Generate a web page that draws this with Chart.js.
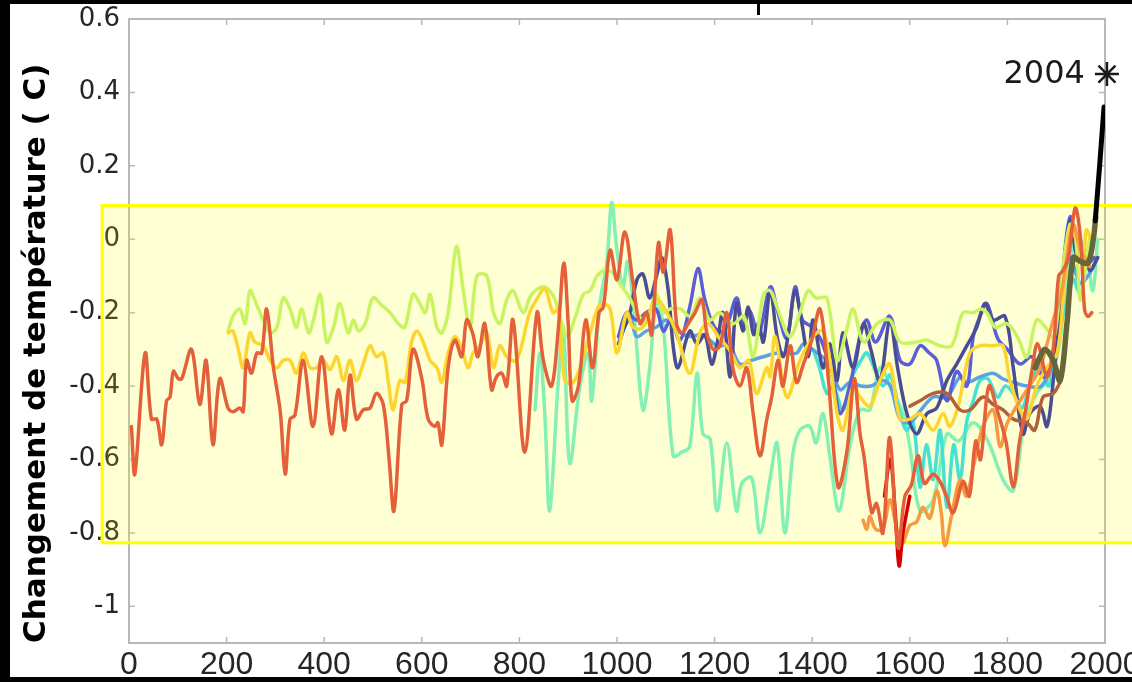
<!DOCTYPE html>
<html>
<head>
<meta charset="utf-8">
<script src="https://cdn.jsdelivr.net/npm/chart.js@4.4.1/dist/chart.umd.min.js"></script>
<style>
  body { margin: 0; background: #000; width: 1132px; height: 682px; overflow: hidden; }
  #wrap { position: absolute; left: 10px; top: 4px; width: 1122px; height: 673px; background: #fff; }
  #mark { position: absolute; left: 757px; top: 3px; width: 3px; height: 12px; background: #000; }
</style>
</head>
<body>
<div id="wrap"><canvas id="tempChart"></canvas></div>
<div id="mark"></div>
<script>
// Axis ticks
const xTicks = [0, 200, 400, 600, 800, 1000, 1200, 1400, 1600, 1800, 2000]
const yTicks = [-1, -0.8, -0.6, -0.4, -0.2, 0, 0.2, 0.4, 0.6]

// Shaded band (years, temperature)
const bandYears = [-55, 2120]
const bandTemps = [0.092, -0.827]

// Series: [year, temperature change]
const moberg = [[5,-0.51],[12,-0.64],[33,-0.31],[46,-0.49],[57,-0.49],[67,-0.56],[77,-0.44],[84,-0.43],[91,-0.36],[101,-0.38],[108,-0.38],[128,-0.30],[145,-0.45],[158,-0.33],[172,-0.56],[186,-0.38],[203,-0.46],[213,-0.47],[227,-0.46],[234,-0.47],[241,-0.33],[251,-0.365],[262,-0.31],[272,-0.31],[282,-0.19],[296,-0.35],[310,-0.47],[320,-0.64],[330,-0.49],[340,-0.48],[357,-0.33],[377,-0.51],[395,-0.32],[415,-0.53],[429,-0.41],[442,-0.52],[453,-0.37],[466,-0.49],[480,-0.465],[494,-0.46],[507,-0.42],[521,-0.45],[533,-0.60],[543,-0.74],[559,-0.45],[569,-0.44],[582,-0.30],[600,-0.38],[613,-0.49],[627,-0.51],[633,-0.50],[641,-0.56],[654,-0.35],[668,-0.275],[682,-0.32],[692,-0.22],[705,-0.26],[715,-0.32],[729,-0.23],[743,-0.41],[753,-0.375],[764,-0.365],[774,-0.40],[787,-0.22],[811,-0.58],[836,-0.20],[849,-0.33],[866,-0.40],[880,-0.24],[891,-0.065],[900,-0.23],[908,-0.44],[921,-0.40],[936,-0.22],[950,-0.35],[963,-0.20],[972,-0.185],[986,-0.03],[1000,-0.11],[1016,0.02],[1033,-0.12],[1047,-0.23],[1061,-0.20],[1071,-0.26],[1085,-0.01],[1095,-0.09],[1109,0.025],[1122,-0.23],[1133,-0.255],[1146,-0.23],[1160,-0.20],[1174,-0.165],[1184,-0.255],[1197,-0.30],[1211,-0.29],[1225,-0.20],[1238,-0.355],[1252,-0.40],[1266,-0.35],[1279,-0.475],[1293,-0.59],[1307,-0.49],[1317,-0.43],[1330,-0.33],[1340,-0.40],[1355,-0.29],[1368,-0.39],[1382,-0.34],[1399,-0.275],[1416,-0.19],[1433,-0.38],[1453,-0.675],[1471,-0.58],[1486,-0.38],[1498,-0.53],[1506,-0.59],[1522,-0.745],[1532,-0.72],[1545,-0.80],[1559,-0.54],[1576,-0.84],[1590,-0.70],[1603,-0.67],[1617,-0.59],[1630,-0.665],[1648,-0.64],[1662,-0.66],[1675,-0.70],[1689,-0.745],[1709,-0.66],[1722,-0.70],[1735,-0.55],[1745,-0.60],[1762,-0.40],[1781,-0.475],[1797,-0.55],[1812,-0.675],[1825,-0.55],[1838,-0.46],[1850,-0.36],[1862,-0.285],[1881,-0.375],[1894,-0.30],[1905,-0.10],[1914,-0.085],[1925,-0.05],[1939,0.085],[1950,0.0],[1958,-0.19],[1965,-0.21],[1973,-0.20]]

const glacier = [[1548,-0.70],[1560,-0.60],[1570,-0.74],[1578,-0.89],[1586,-0.80],[1600,-0.70]]

const borehole = [[1504,-0.765],[1512,-0.79],[1518,-0.755],[1530,-0.79],[1545,-0.79],[1559,-0.71],[1572,-0.78],[1584,-0.83],[1600,-0.78],[1614,-0.77],[1627,-0.73],[1641,-0.76],[1655,-0.685],[1664,-0.74],[1672,-0.835],[1686,-0.75],[1703,-0.655],[1716,-0.70],[1730,-0.62],[1750,-0.51],[1771,-0.465],[1785,-0.565],[1800,-0.50],[1826,-0.44],[1845,-0.40],[1867,-0.35],[1894,-0.22],[1910,-0.15],[1922,-0.05],[1935,0.04],[1950,-0.03],[1969,-0.075]]

const huang = [[1600,-0.455],[1621,-0.44],[1648,-0.42],[1676,-0.42],[1703,-0.465],[1723,-0.465],[1750,-0.43],[1771,-0.45],[1791,-0.465],[1812,-0.49],[1840,-0.50],[1856,-0.52],[1873,-0.43],[1894,-0.42],[1908,-0.39]]

const mannJones = [[203,-0.25],[213,-0.21],[227,-0.19],[238,-0.23],[248,-0.14],[262,-0.18],[275,-0.22],[289,-0.255],[303,-0.24],[316,-0.16],[330,-0.19],[343,-0.24],[354,-0.19],[368,-0.255],[378,-0.22],[392,-0.15],[405,-0.28],[419,-0.24],[432,-0.175],[449,-0.255],[460,-0.22],[470,-0.25],[484,-0.23],[500,-0.16],[518,-0.18],[535,-0.20],[552,-0.23],[565,-0.24],[582,-0.15],[596,-0.175],[607,-0.20],[617,-0.15],[631,-0.24],[641,-0.255],[654,-0.20],[671,-0.02],[685,-0.14],[699,-0.24],[713,-0.10],[733,-0.10],[747,-0.20],[760,-0.23],[774,-0.165],[787,-0.14],[808,-0.20],[825,-0.15],[852,-0.13],[873,-0.165],[897,-0.265],[915,-0.21],[931,-0.15],[945,-0.14],[959,-0.10],[975,-0.085],[990,-0.09],[1005,-0.12],[1026,-0.16],[1045,-0.21],[1060,-0.22],[1080,-0.15],[1095,-0.20],[1109,-0.19],[1130,-0.19],[1150,-0.21],[1170,-0.16],[1190,-0.22],[1210,-0.20],[1238,-0.23],[1260,-0.21],[1279,-0.32],[1300,-0.15],[1314,-0.14],[1328,-0.185],[1354,-0.265],[1375,-0.20],[1392,-0.14],[1408,-0.16],[1430,-0.16],[1451,-0.33],[1470,-0.25],[1484,-0.19],[1505,-0.28],[1533,-0.23],[1559,-0.22],[1580,-0.28],[1614,-0.28],[1635,-0.275],[1662,-0.29],[1686,-0.29],[1709,-0.20],[1730,-0.20],[1744,-0.19],[1758,-0.20],[1775,-0.24],[1799,-0.23],[1820,-0.265],[1840,-0.32],[1860,-0.22],[1881,-0.245],[1895,-0.27],[1908,-0.14],[1928,0.04],[1940,0.0],[1949,-0.165],[1960,-0.08],[1969,0.0],[1980,0.0]]

const jonesMann = [[203,-0.255],[213,-0.25],[224,-0.30],[234,-0.35],[248,-0.255],[258,-0.28],[275,-0.29],[289,-0.33],[303,-0.35],[316,-0.33],[330,-0.33],[343,-0.365],[357,-0.31],[371,-0.35],[384,-0.35],[398,-0.33],[412,-0.355],[426,-0.32],[439,-0.385],[453,-0.33],[466,-0.385],[480,-0.34],[494,-0.29],[507,-0.32],[521,-0.31],[531,-0.385],[541,-0.465],[555,-0.385],[566,-0.39],[579,-0.28],[590,-0.25],[603,-0.28],[617,-0.33],[631,-0.35],[641,-0.39],[654,-0.31],[668,-0.265],[682,-0.30],[695,-0.35],[705,-0.31],[719,-0.29],[733,-0.255],[747,-0.35],[760,-0.29],[774,-0.32],[794,-0.33],[821,-0.20],[835,-0.165],[852,-0.135],[869,-0.20],[880,-0.19],[893,-0.385],[910,-0.39],[924,-0.35],[945,-0.255],[961,-0.185],[972,-0.175],[986,-0.19],[1000,-0.31],[1020,-0.20],[1033,-0.24],[1053,-0.24],[1081,-0.165],[1102,-0.20],[1122,-0.255],[1149,-0.365],[1170,-0.255],[1187,-0.23],[1210,-0.27],[1230,-0.30],[1252,-0.35],[1270,-0.33],[1286,-0.42],[1307,-0.35],[1314,-0.375],[1324,-0.265],[1348,-0.43],[1375,-0.33],[1402,-0.265],[1422,-0.25],[1436,-0.33],[1451,-0.475],[1463,-0.52],[1484,-0.40],[1498,-0.43],[1518,-0.455],[1539,-0.385],[1559,-0.34],[1580,-0.49],[1600,-0.49],[1621,-0.475],[1648,-0.52],[1668,-0.475],[1682,-0.51],[1700,-0.45],[1723,-0.31],[1744,-0.29],[1771,-0.29],[1791,-0.29],[1805,-0.385],[1826,-0.465],[1840,-0.49],[1860,-0.40],[1881,-0.35],[1902,-0.31],[1915,-0.15],[1928,0.025],[1943,0.0],[1955,-0.075],[1962,0.025],[1975,-0.02]]

const esper = [[832,-0.465],[842,-0.31],[852,-0.475],[862,-0.74],[879,-0.40],[890,-0.24],[903,-0.61],[924,-0.40],[941,-0.31],[948,-0.44],[965,-0.175],[979,-0.065],[989,0.10],[999,-0.02],[1012,-0.13],[1022,-0.06],[1036,-0.22],[1053,-0.465],[1067,-0.35],[1081,-0.165],[1095,-0.24],[1115,-0.59],[1133,-0.58],[1149,-0.565],[1164,-0.365],[1176,-0.53],[1191,-0.545],[1205,-0.74],[1225,-0.555],[1245,-0.74],[1256,-0.665],[1276,-0.65],[1293,-0.80],[1314,-0.65],[1328,-0.555],[1344,-0.80],[1361,-0.58],[1375,-0.52],[1395,-0.51],[1408,-0.555],[1422,-0.475],[1436,-0.59],[1455,-0.74],[1477,-0.565],[1498,-0.465],[1518,-0.465],[1539,-0.35],[1566,-0.42],[1585,-0.47],[1600,-0.565],[1621,-0.74],[1648,-0.71],[1676,-0.53],[1700,-0.55],[1730,-0.50],[1760,-0.55],[1791,-0.655],[1812,-0.685],[1835,-0.50],[1860,-0.42],[1885,-0.38],[1905,-0.30],[1922,-0.11],[1943,0.005],[1963,-0.05],[1975,-0.14],[1985,0.0]]

const jones98 = [[1003,-0.285],[1012,-0.25],[1025,-0.21],[1041,-0.11],[1053,-0.095],[1067,-0.16],[1081,-0.10],[1092,-0.05],[1105,-0.14],[1115,-0.29],[1125,-0.35],[1149,-0.25],[1164,-0.285],[1180,-0.26],[1194,-0.34],[1205,-0.285],[1217,-0.20],[1232,-0.375],[1245,-0.175],[1258,-0.25],[1269,-0.185],[1280,-0.26],[1290,-0.23],[1300,-0.28],[1314,-0.14],[1328,-0.265],[1341,-0.32],[1352,-0.25],[1365,-0.14],[1379,-0.23],[1392,-0.32],[1402,-0.22],[1422,-0.35],[1436,-0.285],[1451,-0.385],[1463,-0.255],[1484,-0.35],[1505,-0.23],[1520,-0.30],[1539,-0.385],[1559,-0.22],[1575,-0.35],[1594,-0.475],[1614,-0.53],[1635,-0.475],[1655,-0.46],[1676,-0.385],[1696,-0.34],[1717,-0.29],[1737,-0.24],[1754,-0.175],[1771,-0.22],[1795,-0.21],[1812,-0.35],[1832,-0.53],[1846,-0.475],[1867,-0.455],[1881,-0.51],[1894,-0.385],[1908,-0.185],[1928,0.05],[1943,-0.05],[1955,-0.03],[1969,-0.085],[1985,-0.05]]

const mann99 = [[1003,-0.265],[1020,-0.20],[1040,-0.22],[1060,-0.20],[1080,-0.19],[1095,-0.25],[1110,-0.22],[1129,-0.275],[1149,-0.185],[1166,-0.08],[1180,-0.165],[1200,-0.24],[1220,-0.25],[1245,-0.16],[1258,-0.24],[1272,-0.195],[1290,-0.26],[1314,-0.13],[1330,-0.20],[1348,-0.27],[1365,-0.13],[1380,-0.22],[1400,-0.24],[1420,-0.28],[1443,-0.385],[1457,-0.475],[1477,-0.40],[1498,-0.265],[1512,-0.22],[1530,-0.28],[1559,-0.21],[1580,-0.33],[1600,-0.34],[1621,-0.29],[1640,-0.31],[1655,-0.33],[1676,-0.44],[1696,-0.36],[1717,-0.40],[1730,-0.265],[1744,-0.21],[1758,-0.175],[1780,-0.27],[1800,-0.30],[1826,-0.34],[1850,-0.32],[1873,-0.375],[1890,-0.34],[1908,-0.165],[1928,0.06],[1945,-0.02],[1960,-0.07],[1978,-0.05]]

const crowley = [[1006,-0.275],[1026,-0.21],[1040,-0.265],[1060,-0.25],[1080,-0.24],[1102,-0.22],[1125,-0.25],[1149,-0.265],[1175,-0.26],[1205,-0.29],[1230,-0.29],[1252,-0.34],[1275,-0.33],[1300,-0.32],[1330,-0.31],[1368,-0.31],[1382,-0.285],[1400,-0.30],[1436,-0.34],[1457,-0.41],[1477,-0.39],[1500,-0.40],[1520,-0.40],[1545,-0.385],[1560,-0.40],[1580,-0.49],[1600,-0.50],[1620,-0.47],[1648,-0.43],[1676,-0.43],[1703,-0.375],[1717,-0.39],[1744,-0.375],[1771,-0.365],[1790,-0.38],[1812,-0.39],[1840,-0.40],[1870,-0.40],[1890,-0.33],[1908,-0.16],[1928,-0.05],[1949,-0.12],[1965,-0.10],[1985,-0.05]]

const briffa = [[1402,-0.30],[1415,-0.35],[1430,-0.42],[1443,-0.40],[1463,-0.465],[1480,-0.38],[1500,-0.33],[1512,-0.31],[1530,-0.36],[1545,-0.40],[1560,-0.37],[1580,-0.475],[1593,-0.52],[1607,-0.50],[1621,-0.675],[1634,-0.56],[1648,-0.655],[1662,-0.52],[1676,-0.73],[1690,-0.56],[1703,-0.655],[1716,-0.50],[1730,-0.44],[1744,-0.385],[1760,-0.38],[1780,-0.43],[1796,-0.40],[1812,-0.42],[1830,-0.46],[1850,-0.38],[1867,-0.35],[1885,-0.40],[1900,-0.30],[1915,-0.20],[1935,-0.11],[1945,-0.14],[1955,-0.16]]

const instrumental = [[1857,-0.35],[1867,-0.32],[1877,-0.30],[1894,-0.33],[1908,-0.385],[1922,-0.23],[1935,-0.05],[1949,-0.06],[1965,-0.065],[1976,0.0],[1981,0.06]]
const recent = [[1980,0.05],[1989,0.2],[1998,0.36]]
const year2004 = [[2004, 0.45]]

const toPoints = s => s.map(([x, y]) => ({ x, y }))

function lineSet(label, series, color, width, tension) {
  return {
    label: label,
    data: toPoints(series),
    borderColor: color,
    borderWidth: width,
    borderCapStyle: "round",
    borderJoinStyle: "round",
    pointRadius: 0,
    tension: tension === undefined ? 0.35 : tension,
    fill: false,
  }
}

// Frame, inward ticks and the yellow band
const framePlugin = {
  id: "frame",
  beforeDatasetsDraw(chart) {
    const { ctx, chartArea: a, scales } = chart
    ctx.save()
    ctx.strokeStyle = "#b8b8b8"
    ctx.lineWidth = 2
    ctx.strokeRect(a.left, a.top, a.right - a.left, a.bottom - a.top)
    ctx.lineWidth = 1.5
    ctx.beginPath()
    xTicks.forEach(v => {
      const px = scales.x.getPixelForValue(v)
      ctx.moveTo(px, a.bottom); ctx.lineTo(px, a.bottom - 6)
      ctx.moveTo(px, a.top); ctx.lineTo(px, a.top + 6)
    })
    yTicks.forEach(v => {
      const py = scales.y.getPixelForValue(v)
      ctx.moveTo(a.left, py); ctx.lineTo(a.left + 6, py)
      ctx.moveTo(a.right, py); ctx.lineTo(a.right - 6, py)
    })
    ctx.stroke()

    const l = scales.x.getPixelForValue(bandYears[0])
    const r = scales.x.getPixelForValue(bandYears[1])
    const t = scales.y.getPixelForValue(bandTemps[0])
    const b = scales.y.getPixelForValue(bandTemps[1])
    ctx.fillStyle = "rgba(255, 255, 0, 0.17)"
    ctx.fillRect(l, t, r - l, b - t)
    ctx.strokeStyle = "#ffff00"
    ctx.lineWidth = 3
    ctx.strokeRect(l, t, r - l, b - t)
    ctx.restore()
  },
  afterDatasetsDraw(chart) {
    const { ctx, scales } = chart
    const px = scales.x.getPixelForValue(year2004[0][0])
    const py = scales.y.getPixelForValue(year2004[0][1])
    ctx.save()
    ctx.font = '32px "DejaVu Sans"'
    ctx.fillStyle = "#1a1a1a"
    ctx.textAlign = "right"
    ctx.textBaseline = "middle"
    ctx.fillText("2004", px - 22, py + 1)
    ctx.restore()
  },
}

function pinScale(scale, size) {
  if (scale.isHorizontal()) scale.height = size
  else scale.width = size
  scale.paddingLeft = 0
  scale.paddingRight = 0
  scale.paddingTop = 0
  scale.paddingBottom = 0
}

document.addEventListener("DOMContentLoaded", () => {
  const ctx = document.getElementById("tempChart").getContext("2d")
  new Chart(ctx, {
    type: "line",
    data: {
      datasets: [
        {
          label: "2004",
          data: toPoints(year2004),
          showLine: false,
          pointStyle: "star",
          pointRadius: 12,
          borderColor: "#1a1a1a",
          borderWidth: 2.5,
          clip: false,
        },
        lineSet("Instrumental", recent, "#000000", 5, 0),
        lineSet("Instrumental (smoothed)", instrumental, "#66663a", 5.5),
        lineSet("Moberg et al. (2005)", moberg, "#e4603a", 3.5),
        lineSet("Oerlemans (2005)", glacier, "#d40000", 3.5),
        lineSet("Pollack & Smerdon (2004)", borehole, "#f79a40", 3.5),
        lineSet("Huang (2004)", huang, "#b0603a", 3.5),
        lineSet("Jones & Mann (2004)", jonesMann, "#fcd62e", 3.5),
        lineSet("Mann & Jones (2003)", mannJones, "#c8f462", 3.5),
        lineSet("Jones et al. (1998)", jones98, "#4a4d94", 3.5),
        lineSet("Mann et al. (1999)", mann99, "#5a5ed8", 3.5),
        lineSet("Crowley & Lowery (2000)", crowley, "#5aa2e6", 3.5),
        lineSet("Briffa (2000)", briffa, "#44e2d2", 3.5),
        lineSet("Esper et al. (2002)", esper, "#84f0b4", 3.5),
      ],
    },
    options: {
      responsive: true,
      maintainAspectRatio: false,
      animation: false,
      layout: { padding: { left: 0, top: 15, right: 27, bottom: 0 } },
      plugins: {
        legend: { display: false },
        tooltip: { enabled: false },
      },
      scales: {
        x: {
          type: "linear",
          min: 0,
          max: 2000,
          grid: { display: false, drawTicks: false },
          border: { display: false },
          afterBuildTicks: s => { s.ticks = xTicks.map(v => ({ value: v })) },
          afterFit: s => pinScale(s, 34),
          ticks: {
            color: "#262626",
            font: { family: "Liberation Sans", size: 32 },
            padding: 3,
            maxRotation: 0,
            autoSkip: false,
            callback: v => String(v),
          },
        },
        y: {
          type: "linear",
          min: -1.1,
          max: 0.6,
          grid: { display: false, drawTicks: false },
          border: { display: false },
          afterBuildTicks: s => { s.ticks = yTicks.map(v => ({ value: v })) },
          afterFit: s => pinScale(s, 119),
          ticks: {
            color: "#262626",
            font: { family: "DejaVu Sans", size: 26 },
            padding: 9,
            autoSkip: false,
            callback: v => String(v),
          },
          title: {
            display: true,
            text: "Changement de température ( C)",
            color: "#000",
            align: "start",
            font: { family: "DejaVu Sans", size: 31, weight: "bold" },
            padding: { top: 8, bottom: 0 },
          },
        },
      },
    },
    plugins: [framePlugin],
  })
})
</script>
</body>
</html>
